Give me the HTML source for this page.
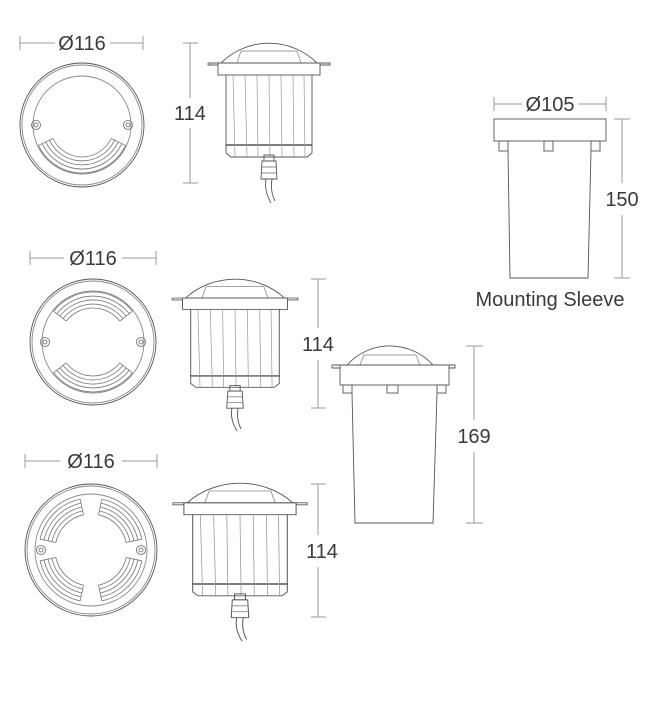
<!DOCTYPE html>
<html><head><meta charset="utf-8"><style>
html,body{margin:0;padding:0;background:#fff;}
svg{display:block}
text{font-family:"Liberation Sans",sans-serif;fill:#3a3a3a;font-size:20px;}
</style></head><body>
<svg width="650" height="707" viewBox="0 0 650 707" xmlns="http://www.w3.org/2000/svg">
<defs>
  <g id="slotA" fill="none" stroke="#777" stroke-width="0.8">
    <path d="M43.5,20.3 A48,48 0 0 1 -43.5,20.3"/>
    <path d="M39.9,18.6 A44,44 0 0 1 -39.9,18.6"/>
    <path d="M36.2,16.9 A40,40 0 0 1 -36.2,16.9"/>
    <path d="M32.6,15.2 A36,36 0 0 1 -32.6,15.2"/>
    <path d="M29,13.5 A32,32 0 0 1 -29,13.5"/>
    <path d="M43.5,20.3 L29,13.5 M-43.5,20.3 L-29,13.5"/>
  </g>
  <g id="slotB" fill="none" stroke="#777" stroke-width="0.8">
    <path d="M39.4,30.8 A50,50 0 0 1 -39.4,30.8"/>
    <path d="M36.2,28.3 A46,46 0 0 1 -36.2,28.3"/>
    <path d="M33.1,25.9 A42,42 0 0 1 -33.1,25.9"/>
    <path d="M29.9,23.4 A38,38 0 0 1 -29.9,23.4"/>
    <path d="M26.8,20.9 A34,34 0 0 1 -26.8,20.9"/>
    <path d="M39.4,30.8 L26.8,20.9 M-39.4,30.8 L-26.8,20.9"/>
  </g>
  <g id="slotC" fill="none" stroke="#777" stroke-width="0.8">
    <path d="M50.9,10.8 A52,52 0 0 1 10.8,50.9"/>
    <path d="M46.9,10 A48,48 0 0 1 10,46.9"/>
    <path d="M43,9.1 A44,44 0 0 1 9.1,43"/>
    <path d="M39.1,8.3 A40,40 0 0 1 8.3,39.1"/>
    <path d="M35.2,7.5 A36,36 0 0 1 7.5,35.2"/>
    <path d="M50.9,10.8 L35.2,7.5 M10.8,50.9 L7.5,35.2"/>
  </g>
  <g id="screw" fill="none" stroke="#666" stroke-width="0.8">
    <circle r="4.5"/><circle r="2"/>
  </g>
  <g id="side" fill="none" stroke="#555" stroke-width="0.9">
    <path d="M-48,20 A68,68 0 0 1 48,20"/>
    <path d="M-32,20 L-28,8 L28,8 L32,20" stroke="#999"/>
    <path d="M-61,20 L61,20 L61,22 L51,22"/>
    <path d="M-61,20 L-61,22 L-51,22"/>
    <rect x="-51" y="20" width="102" height="12"/>
    <path d="M-43,32 L-43,110 L-38,114 L38,114 L43,110 L43,32"/>
    <path d="M-43,102 L43,102" stroke="#333" stroke-width="1.2"/>
    <g stroke="#999" stroke-width="0.7">
      <path d="M-36,32 L-34,114 M-24,32 L-22,114 M-12,32 L-11,114 M0,32 L1,114 M12,32 L13,114 M24,32 L25,114 M35,32 L36,114"/>
    </g>
    <rect x="-5" y="112" width="10" height="6"/>
    <path d="M-7,118 L7,118 L8,136 L-8,136 Z"/>
    <path d="M-7,124 L7,124 M-7,130 L7,130" stroke="#888"/>
    <path d="M-3,136 Q-5,148 2,160 M3,136 Q1,148 6,158"/>
  </g>
</defs>

<g stroke="#999" stroke-width="1" fill="none">
  <path d="M20,36 V50 M143,36 V50 M20,43 H55 M110,43 H143"/>
  <path d="M183,43 H198 M183,183 H198 M190,43 V98 M190,128 V183"/>
  <path d="M30,251 V265 M156,251 V265 M30,258 H64 M122,258 H156"/>
  <path d="M311,279 H326 M311,408 H326 M318,279 V328 M318,360 V408"/>
  <path d="M25,454 V468 M157,454 V468 M25,461 H60 M122,461 H157"/>
  <path d="M311,484 H326 M311,617 H326 M318,484 V535 M318,567 V617"/>
  <path d="M466,346 H483 M466,523 H483 M474,346 V420 M474,452 V523"/>
  <path d="M494,97 V111 M606,97 V111 M494,104 H522 M578,104 H606"/>
  <path d="M614,119 H630 M614,278 H630 M622,119 V183 M622,215 V278"/>
</g>

<text x="82" y="50" text-anchor="middle">Ø116</text>
<text x="190" y="120" text-anchor="middle">114</text>
<text x="93" y="265" text-anchor="middle">Ø116</text>
<text x="318" y="351" text-anchor="middle">114</text>
<text x="91" y="468" text-anchor="middle">Ø116</text>
<text x="322" y="558" text-anchor="middle">114</text>
<text x="474" y="443" text-anchor="middle">169</text>
<text x="550" y="111" text-anchor="middle">Ø105</text>
<text x="622" y="206" text-anchor="middle">150</text>
<text x="550" y="306" text-anchor="middle" font-size="18">Mounting Sleeve</text>

<g transform="translate(82,125)" fill="none" stroke="#555" stroke-width="0.9">
  <circle r="62"/><circle r="60" stroke="#888"/><circle r="49" stroke="#888"/>
  <use href="#slotA"/>
  <use href="#screw" x="-46"/><use href="#screw" x="46"/>
</g>
<g transform="translate(93,342)" fill="none" stroke="#555" stroke-width="0.9">
  <circle r="63"/><circle r="61" stroke="#888"/><circle r="51" stroke="#888"/>
  <use href="#slotB"/><use href="#slotB" transform="rotate(180)"/>
  <use href="#screw" x="-48"/><use href="#screw" x="48"/>
</g>
<g transform="translate(91,550)" fill="none" stroke="#555" stroke-width="0.9">
  <circle r="66"/><circle r="64" stroke="#888"/><circle r="56" stroke="#888"/>
  <use href="#slotC"/><use href="#slotC" transform="rotate(90)"/>
  <use href="#slotC" transform="rotate(180)"/><use href="#slotC" transform="rotate(270)"/>
  <use href="#screw" x="-50"/><use href="#screw" x="50"/>
</g>

<use href="#side" transform="translate(269,43)"/>
<use href="#side" transform="translate(235,279) scale(1.03,0.95)"/>
<use href="#side" transform="translate(240,483) scale(1.1,0.99)"/>

<g fill="none" stroke="#555" stroke-width="0.9">
  <path d="M347,365 A58,58 0 0 1 433,365"/>
  <path d="M360,365 L364,355 L416,355 L420,365" stroke="#999"/>
  <path d="M332,365 H455 V368 H449 M332,365 V368 H340"/>
  <rect x="340" y="365" width="109" height="20"/>
  <rect x="343" y="385" width="9" height="8"/>
  <rect x="387" y="385" width="11" height="8"/>
  <rect x="437" y="385" width="9" height="8"/>
  <path d="M352,393 L355,523 L433,523 L437,393"/>
</g>

<g fill="none" stroke="#555" stroke-width="0.9">
  <rect x="494" y="119" width="112" height="22"/>
  <rect x="499" y="141" width="9" height="10"/>
  <rect x="544" y="141" width="9" height="10"/>
  <rect x="591" y="141" width="9" height="10"/>
  <path d="M508,151 L510,278 L588,278 L591,151"/>
</g>
</svg>
</body></html>
